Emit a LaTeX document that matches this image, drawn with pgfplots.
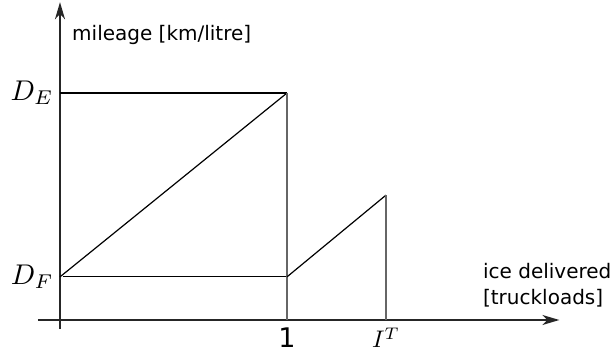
\documentclass[border=0pt]{standalone}
\usepackage{fontspec}
\setmainfont{DejaVu Sans}
\usepackage{pgfplots}
\pgfplotsset{compat=1.18}
\usetikzlibrary{arrows.meta, calc}

\begin{document}
\begin{tikzpicture}
  \begin{axis}[x=227pt, y=227pt,
    xmin=-0.097, xmax=2.2, ymin=-0.04, ymax=1.40,
    axis lines=middle, clip=false,
    axis line style={line width=1.8pt, black!85, -{Stealth[length=17pt,width=10pt,inset=5pt]}},
    major tick length=0pt,
    xtick={1,1.436},
    xticklabels={{\fontsize{27}{27}\selectfont 1}, {\scalebox{2.4}{$I^T$}}},
    ytick={0.19,1.0},
    yticklabels={{\scalebox{2.85}{$D_F$}}, {\scalebox{2.85}{$D_E$}}},
    x tick label style={anchor=north, yshift=-4pt},
    y tick label style={anchor=east, xshift=-3pt},
    every axis plot/.append style={line width=1.2pt}]
    \coordinate (o) at (axis cs:0,0);
    % rising mileage up to one truckload
    \addplot[black] coordinates {(0,0.19) (1,1.0)};
    \addplot[black] coordinates {(0,1.0) (1,1.0)};
    \addplot[black] coordinates {(0.015,0.19) (1,0.19)};
    \addplot[black!60] coordinates {(1,1.0) (1,0)};
    % second load
    \addplot[black] coordinates {(1,0.19) (1.436,0.55)};
    \addplot[black!60] coordinates {(1.436,0.55) (1.436,0)};
    \node[anchor=west, inner sep=0pt, font=\fontsize{20}{24}\selectfont]
      at (axis cs:0.053,1.256) {mileage [km/litre]};
    \node[anchor=west, inner sep=0pt, align=left, font=\fontsize{20}{26}\selectfont]
      at (axis cs:1.863,0.152) {ice delivered\\\relax [truckloads]};
  \end{axis}
  \useasboundingbox ($(o)+(-60pt,-36pt)$) rectangle ($(o)+(553pt,320pt)$);
\end{tikzpicture}
\end{document}
